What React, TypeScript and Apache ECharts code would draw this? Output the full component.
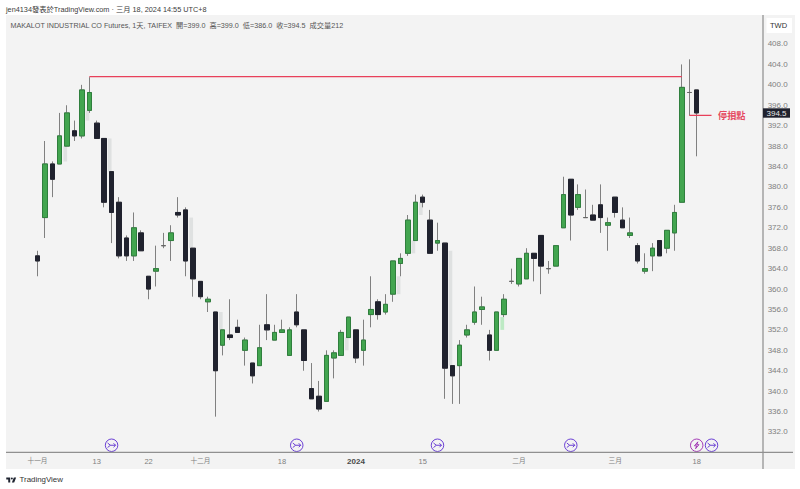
import React, { useEffect, useRef } from "react";
import * as echarts from "echarts";

const FONT = "'Liberation Sans','Noto Sans CJK TC',sans-serif";

const leadDates = ["10-26", "10-27", "10-30", "10-31"];
const dates = ["11-01","11-02","11-03","11-06","11-07","11-08","11-09","11-10","11-13","11-14","11-15","11-16","11-17","11-20","11-21","11-22","11-23","11-24","11-27","11-28","11-29","11-30","12-01","12-04","12-05","12-06","12-07","12-08","12-11","12-12","12-13","12-14","12-15","12-18","12-19","12-20","12-21","12-22","12-25","12-26","12-27","12-28","12-29","01-02","01-03","01-04","01-05","01-08","01-09","01-10","01-11","01-12","01-15","01-16","01-17","01-18","01-19","01-22","01-23","01-24","01-25","01-26","01-29","01-30","01-31","02-01","02-02","02-05","02-15","02-16","02-19","02-20","02-21","02-22","02-23","02-26","02-27","02-29","03-01","03-04","03-05","03-06","03-07","03-08","03-11","03-12","03-13","03-14","03-15","03-18"];
const trailDates = ["03-19","03-20","03-21","03-22","03-25","03-26","03-27","03-28"];

const opens = [366.5,374,384.5,384.5,388,391,390,395,392.5,389.5,383,377,370,366.5,371,362.5,363.5,368.5,369.5,375,375.5,368,361.5,357.5,355.5,349,351,352.5,348,345.5,345,353,350,351.5,347,355.5,352,340.5,339,338,346.5,347,350.5,352,348,355,357.5,355.5,359,365,367,369.5,378,373.5,369,369,345,345,351,353.5,356,351,348,355,361.5,361,362,367,370.5,364,364.5,372,381.5,376,374,374.5,376.5,372.5,378,373.5,370.5,368.5,363.5,366.5,369.5,368,371,377,398.5,399];
const closes = [365.5,384.5,381.5,390,394.5,390,399,398.5,389.5,377,375,366.5,366.5,372,367.5,360,364,368.5,371,374.5,365.5,362,358.5,358,344,352,350.5,351.5,350,343,348.5,352,351.5,352,352,353,346,338.5,336.5,347,347.5,351.5,354.5,346.5,350,356,355,357,365.5,366,373.5,377,377,367,369.5,344.5,343,349,352,355.5,356.5,348,355.5,358,361.5,366,367,366,364.5,364,368.5,378.5,374.5,378.5,374,373.5,374,373,375,372,371,365.5,364,368,366.5,371.5,375,399.5,398.5,394.5];
const lows = [362.5,370,378,384.5,388,389,389.5,394.5,389.5,376,369,366,365.5,365.5,367.5,358,360.5,368,365.5,374,362.5,358.5,358,355.5,335,347,350,351.5,345,341.5,345,350,350,351.5,347,352.5,344,338.5,336,338,342.5,347,350.5,345.5,345,352.5,354,355,357.5,362.5,366.5,369.5,376,367,367.5,338.5,337.5,337.5,350.5,353,353,346,348,354.5,361,360.5,362,361.5,359,363,364.5,372,369.5,375.5,374,373.5,371,367.5,374,372,370,365,363,363.5,366.5,367,367.5,377,394,386];
const highs = [367.5,389,385,394.5,396,393,400,401.5,393,389.5,383,378,370.5,375,371.5,362.5,368.5,371,372.5,378,376,368,361.5,358.5,355.5,352,358,354,350.5,345.5,353,359,353,354,352.5,359,352,345.5,342,348,348,352,354.5,352,354,362.5,358,359,365.5,367,374.5,378.5,378.5,375.5,373,369,345,350,353,360.5,358.5,352,355.5,359,364,366,368,367,370.5,365.5,368.5,382,381.5,380.5,379.5,376.5,380.5,374,378,376,374,369,367,369,369.5,371.5,376.5,404,405,399];

const yTickLabels = [332,336,340,344,348,352,356,360,364,368,372,376,380,384,388,392,396,400,404,408];
const xTickLabels: Record<string, string> = {
  "11-01": "十一月", "11-13": "13", "11-22": "22", "12-01": "十二月", "12-18": "18",
  "01-02": "2024", "01-15": "15", "02-01": "二月", "03-01": "三月", "03-18": "18",
};

// [candle index, upper value, lower value]
const gaps = [[3,388,385],[6,395,393],[9,389.5,383],[20,374,368],[24,355.5,352],[41,350.5,348],[48,362.5,359],[50,369.5,367],[51,377,374.5],[55,367.5,345]];
const greenGaps = [[62,354.5,352]];

const splitEventIdx = [10, 35, 54, 72, 91];
const earningsEventIdx = [89];
const eventLevel = 329.4;

const resistance = { from: 7, to: 87, value: 401.6 };
const stopLoss = { from: 88, to: 91, value: 394 };

const header = "jen4134發表於TradingView.com · 三月 18, 2024 14:55 UTC+8";
const legendText = "MAKALOT INDUSTRIAL CO Futures, 1天, TAIFEX  開=399.0  高=399.0  低=386.0  收=394.5  成交量212";

const PAD = leadDates.length;
const categories = [...leadDates, ...dates, ...trailDates];
const arrowSymbol = "path://M12 1a11 11 0 1 0 0 22a11 11 0 1 0 0-22Z M5 8l5 4l-5 4 M10 12h9 M15.5 8.5l3.5 3.5l-3.5 3.5";
const boltSymbol = "path://M12 1a11 11 0 1 0 0 22a11 11 0 1 0 0-22Z M14 6l-6 7h4l-2 5l6-7h-4z";
const LOGO = "M14 6H2v6h6v9h6V6Zm12 15h-7l6-15h7l-6 15Zm-7-9a3 3 0 1 0 0-6 3 3 0 0 0 0 6Z";
const RED = "#e8405a";

export default function App() {
  const ref = useRef<HTMLDivElement>(null);
  useEffect(() => {
    echarts.graphic.registerShape("tvlogo", echarts.graphic.extendPath(LOGO, {}) as any);
    const chart = echarts.init(ref.current!, undefined, { renderer: "svg" });
    const wickData = dates.map((_, i) => [i + PAD, opens[i], closes[i], lows[i], highs[i]]);
    const bodyData = dates.map((_, i) => [i + PAD, opens[i], closes[i], Math.min(opens[i], closes[i]), Math.max(opens[i], closes[i])]);
    const gapRender = (color: string) => (params: any, api: any) => {
      const a = api.coord([api.value(0), api.value(1)]);
      const b = api.coord([api.value(0) + 1, api.value(2)]);
      const band = b[0] - a[0];
      return { type: "rect", shape: { x: a[0] + band / 2, y: a[1], width: band / 2, height: b[1] - a[1] }, style: { fill: color } };
    };
    const levelLine = (name: string, l: { from: number; to: number; value: number }) => ({
      type: "line",
      name,
      z: 5,
      silent: true,
      showSymbol: false,
      symbol: "none",
      data: [[l.from + PAD, l.value], [l.to + PAD, l.value]],
      lineStyle: { color: RED, width: 1.2, type: "solid" },
      itemStyle: { color: RED },
    });
    chart.setOption({
      animation: false,
      backgroundColor: "#ffffff",
      textStyle: { fontFamily: FONT },
      grid: { left: 4.17, top: 15, width: 755.5, height: 437.4 },
      xAxis: {
        type: "category",
        data: categories,
        boundaryGap: true,
        axisLine: { show: false },
        axisTick: { show: false },
        splitLine: { show: false },
        axisLabel: {
          interval: (_: number, v: string) => v in xTickLabels,
          formatter: (v: string) => {
            const t = xTickLabels[v] || "";
            if (t === "2024") return "{b|2024}";
            return /月/.test(t) ? "{c|" + t + "}" : t;
          },
          hideOverlap: false,
          color: "#7f7f7f",
          fontSize: 7.5,
          margin: 5,
          fontFamily: FONT,
          rich: {
            b: { fontWeight: "bold", color: "#4a4a4a", fontSize: 8, fontFamily: FONT },
            c: { color: "#7f7f7f", fontSize: 6.7, fontFamily: FONT },
          },
        },
      },
      yAxis: {
        type: "value",
        position: "right",
        min: 328,
        max: 413.68,
        interval: 4,
        axisLine: { show: false },
        axisTick: { show: false },
        splitLine: { show: false },
        axisLabel: {
          showMaxLabel: false,
          showMinLabel: false,
          margin: 8,
          color: "#7f7f7f",
          fontSize: 8,
          fontFamily: FONT,
          formatter: (v: number) => (yTickLabels.includes(v) ? v.toFixed(1) : ""),
        },
      },
      series: [
        {
          type: "custom",
          name: "gaps",
          z: 1,
          silent: true,
          data: gaps.map(([i, t, b]) => [i + PAD, t, b]),
          encode: { x: 0, y: [1, 2] },
          renderItem: gapRender("#dfe1e1"),
        },
        {
          type: "custom",
          name: "greenGaps",
          z: 1,
          silent: true,
          data: greenGaps.map(([i, t, b]) => [i + PAD, t, b]),
          encode: { x: 0, y: [1, 2] },
          renderItem: gapRender("#bdeac4"),
        },
        {
          type: "candlestick",
          name: "wick",
          z: 2,
          barWidth: 5,
          encode: { x: 0, y: [1, 2, 3, 4] },
          data: wickData,
          itemStyle: {
            color: "transparent",
            color0: "transparent",
            borderColor: "#808080",
            borderColor0: "#808080",
            borderColorDoji: "#808080",
            borderWidth: 1,
          },
        },
        {
          type: "candlestick",
          name: "body",
          z: 3,
          barWidth: 5,
          encode: { x: 0, y: [1, 2, 3, 4] },
          data: bodyData,
          itemStyle: {
            color: "#42a54f",
            color0: "#20222e",
            borderColor: "#2f7f3d",
            borderColor0: "#20222e",
            borderColorDoji: "#666666",
            borderWidth: 1,
          },
        },
        levelLine("resistance", resistance),
        levelLine("stopLoss", stopLoss),
        {
          type: "scatter",
          name: "splits",
          z: 4,
          silent: true,
          symbol: arrowSymbol,
          symbolSize: 12.5,
          data: splitEventIdx.map((i) => [i + PAD, eventLevel]),
          itemStyle: { color: "transparent", borderColor: "#5b2bd0", borderWidth: 0.9, opacity: 1 },
        },
        {
          type: "scatter",
          name: "earnings",
          z: 4,
          silent: true,
          symbol: boltSymbol,
          symbolSize: 12.5,
          data: earningsEventIdx.map((i) => [i + PAD, eventLevel]),
          itemStyle: { color: "transparent", borderColor: "#9c27b0", borderWidth: 0.9, opacity: 1 },
        },
      ],
      graphic: [
        { type: "rect", z: -10, silent: true, shape: { x: 6, y: 15, width: 789, height: 454 }, style: { fill: "#f3f3f3" } },
        { type: "rect", z: 5, silent: true, shape: { x: 766.5, y: 18, width: 25.5, height: 15 }, style: { fill: "#ffffff" } },
        { type: "text", z: 6, silent: true, x: 778.5, y: 25.5, style: { text: "TWD", fontSize: 7.5, fontFamily: FONT, fill: "#333333", textAlign: "center", textVerticalAlign: "middle" } },
        { type: "line", z: 5, silent: true, shape: { x1: 763, y1: 15, x2: 763, y2: 469 }, style: { stroke: "#a0a0a0", lineWidth: 1.5 } },
        { type: "line", z: 5, silent: true, shape: { x1: 6, y1: 452.3, x2: 793, y2: 452.3 }, style: { stroke: "#909090", lineWidth: 1.2 } },
        { type: "text", z: 6, silent: true, x: 6, y: 9, style: { text: header, fontSize: 7.3, fontFamily: FONT, fill: "#3c3c3c", textVerticalAlign: "middle" } },
        { type: "text", z: 6, silent: true, x: 10.5, y: 25, style: { text: legendText, fontSize: 7.2, fontFamily: FONT, fill: "#555555", textVerticalAlign: "middle" } },
        { type: "rect", z: 7, silent: true, shape: { x: 763, y: 108.3, width: 27, height: 9.4 }, style: { fill: "#20222e" } },
        { type: "text", z: 8, silent: true, x: 776.5, y: 113.2, style: { text: closes[closes.length - 1].toFixed(1), fontSize: 8, fontFamily: FONT, fill: "#e8e8e8", textAlign: "center", textVerticalAlign: "middle" } },
        { type: "text", z: 8, silent: true, x: 718, y: 115, style: { text: "停損點", fontSize: 9.2, fontWeight: "bold", fontFamily: "'Noto Sans CJK TC',sans-serif", fill: "#e5495f", textVerticalAlign: "middle" } },
        { type: "tvlogo", z: 6, silent: true, x: 5.6, y: 475.5, scaleX: 0.33, scaleY: 0.33, style: { fill: "#1f2430" } },
        { type: "text", z: 6, silent: true, x: 19.5, y: 479.5, style: { text: "TradingView", fontSize: 7.9, fontFamily: FONT, fill: "#333333", textVerticalAlign: "middle" } },
      ],
    });
    return () => chart.dispose();
  }, []);
  return <div ref={ref} style={{ position: "fixed", left: 0, top: 0, width: 800, height: 489 }} />;
}
